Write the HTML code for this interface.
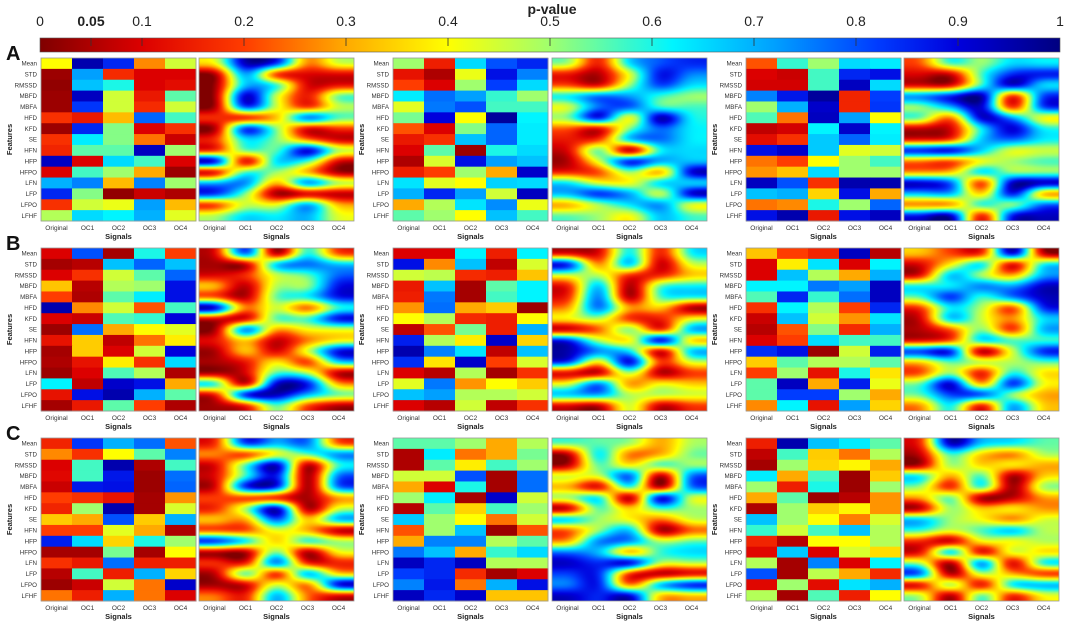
<!DOCTYPE html>
<html><head><meta charset="utf-8"><style>
html,body{margin:0;padding:0;background:#fff;}
#wrap{position:relative;width:1065px;height:621px;overflow:hidden;font-family:"Liberation Sans",Arial,sans-serif;}
svg{position:absolute;left:0;top:0;}
canvas{position:absolute;}
</style></head><body>
<div id="wrap">
<svg id="svg" width="1065" height="621"></svg>
</div>
<script>
const features=["Mean","STD","RMSSD","MBFD","MBFA","HFD","KFD","SE","HFN","HFP","HFPO","LFN","LFP","LFPO","LFHF"];
const signals=["Original","OC1","OC2","OC3","OC4"];
const cbTicks=[0,0.05,0.1,0.2,0.3,0.4,0.5,0.6,0.7,0.8,0.9,1];
const cbTickLabels=["0","0.05","0.1","0.2","0.3","0.4","0.5","0.6","0.7","0.8","0.9","1"];
const rowLetters=["A","B","C"];
const A1=[[0.4,0.95,0.85,0.27,0.45],[0.03,0.72,0.17,0.1,0.1],[0.02,0.68,0.6,0.1,0.12],[0.03,0.93,0.45,0.14,0.55],[0.03,0.83,0.45,0.17,0.45],[0.18,0.14,0.32,0.78,0.57],[0.03,0.85,0.52,0.1,0.18],[0.18,0.63,0.52,0.25,0.08],[0.16,0.55,0.55,0.93,0.5],[0.93,0.1,0.65,0.57,0.1],[0.1,0.57,0.5,0.3,0.03],[0.7,0.75,0.32,0.75,0.5],[0.85,0.52,0.02,0.08,0.05],[0.18,0.45,0.42,0.72,0.32],[0.48,0.65,0.62,0.7,0.43]];
const A2=[[0.5,0.15,0.65,0.8,0.85],[0.13,0.05,0.42,0.88,0.75],[0.2,0.1,0.5,0.82,0.65],[0.63,0.77,0.72,0.58,0.5],[0.43,0.76,0.8,0.57,0.57],[0.53,0.9,0.4,0.97,0.62],[0.22,0.1,0.52,0.78,0.63],[0.14,0.18,0.68,0.78,0.63],[0.1,0.55,0.03,0.6,0.65],[0.05,0.44,0.88,0.72,0.68],[0.15,0.2,0.5,0.3,0.92],[0.64,0.43,0.4,0.66,0.65],[0.7,0.85,0.72,0.45,0.93],[0.3,0.48,0.64,0.74,0.42],[0.55,0.5,0.4,0.68,0.57]];
const A3=[[0.22,0.58,0.5,0.65,0.63],[0.1,0.08,0.57,0.85,0.88],[0.09,0.09,0.57,0.93,0.65],[0.75,0.87,0.97,0.16,0.82],[0.5,0.7,0.92,0.16,0.83],[0.56,0.25,0.93,0.72,0.4],[0.07,0.09,0.62,0.92,0.62],[0.12,0.18,0.67,0.78,0.63],[0.88,0.92,0.67,0.43,0.45],[0.25,0.2,0.4,0.5,0.57],[0.28,0.33,0.65,0.5,0.5],[0.93,0.8,0.18,0.95,0.95],[0.68,0.7,0.35,0.88,0.3],[0.25,0.27,0.6,0.5,0.78],[0.88,0.95,0.14,0.88,0.93]];
const B1=[[0.1,0.8,0.04,0.6,0.2],[0.04,0.06,0.68,0.78,0.68],[0.1,0.18,0.45,0.55,0.78],[0.33,0.06,0.48,0.5,0.88],[0.2,0.05,0.55,0.63,0.88],[0.95,0.27,0.45,0.22,0.57],[0.1,0.08,0.56,0.58,0.9],[0.03,0.77,0.3,0.4,0.43],[0.13,0.34,0.07,0.25,0.38],[0.04,0.34,0.1,0.45,0.9],[0.05,0.13,0.38,0.18,0.65],[0.03,0.1,0.56,0.48,0.05],[0.62,0.07,0.92,0.88,0.3],[0.13,0.88,0.95,0.7,0.55],[0.04,0.14,0.55,0.2,0.05]];
const B2=[[0.1,0.1,0.62,0.15,0.62],[0.88,0.27,0.68,0.07,0.44],[0.45,0.47,0.17,0.15,0.33],[0.14,0.68,0.04,0.55,0.62],[0.15,0.76,0.04,0.57,0.62],[0.28,0.77,0.3,0.34,0.03],[0.4,0.48,0.17,0.15,0.4],[0.07,0.22,0.53,0.15,0.7],[0.86,0.48,0.38,0.92,0.35],[0.95,0.75,0.64,0.07,0.68],[0.84,0.37,0.92,0.2,0.44],[0.1,0.06,0.48,0.04,0.18],[0.43,0.76,0.28,0.4,0.34],[0.68,0.72,0.48,0.48,0.45],[0.1,0.06,0.45,0.07,0.18]];
const B3=[[0.33,0.2,0.16,0.93,0.06],[0.1,0.38,0.64,0.1,0.62],[0.1,0.68,0.48,0.3,0.7],[0.62,0.62,0.76,0.72,0.93],[0.56,0.85,0.58,0.77,0.93],[0.18,0.62,0.48,0.2,0.85],[0.08,0.68,0.45,0.28,0.64],[0.06,0.22,0.52,0.17,0.7],[0.1,0.2,0.65,0.57,0.57],[0.84,0.88,0.03,0.45,0.86],[0.34,0.55,0.48,0.48,0.55],[0.2,0.5,0.13,0.6,0.37],[0.55,0.93,0.3,0.86,0.42],[0.55,0.82,0.82,0.5,0.3],[0.27,0.62,0.13,0.72,0.35]];
const C1=[[0.16,0.83,0.7,0.77,0.22],[0.27,0.18,0.4,0.55,0.75],[0.1,0.57,0.95,0.05,0.57],[0.11,0.57,0.87,0.03,0.77],[0.08,0.87,0.88,0.03,0.78],[0.2,0.18,0.13,0.04,0.28],[0.16,0.5,0.95,0.04,0.44],[0.34,0.3,0.8,0.34,0.7],[0.2,0.2,0.43,0.3,0.05],[0.86,0.65,0.35,0.6,0.5],[0.04,0.04,0.53,0.04,0.4],[0.18,0.14,0.77,0.15,0.15],[0.06,0.57,0.15,0.7,0.35],[0.03,0.08,0.45,0.25,0.92],[0.25,0.15,0.7,0.25,0.1]];
const C2=[[0.55,0.55,0.5,0.3,0.48],[0.05,0.63,0.25,0.3,0.53],[0.05,0.55,0.38,0.57,0.5],[0.45,0.45,0.8,0.04,0.77],[0.3,0.1,0.6,0.04,0.77],[0.5,0.63,0.04,0.92,0.45],[0.06,0.55,0.35,0.57,0.5],[0.67,0.5,0.4,0.25,0.45],[0.22,0.5,0.68,0.03,0.22],[0.3,0.75,0.75,0.48,0.55],[0.76,0.68,0.3,0.58,0.65],[0.93,0.85,0.93,0.48,0.48],[0.82,0.85,0.17,0.04,0.1],[0.75,0.87,0.25,0.7,0.88],[0.93,0.85,0.92,0.33,0.33]];
const C3=[[0.15,0.95,0.68,0.63,0.55],[0.07,0.57,0.34,0.25,0.48],[0.04,0.5,0.35,0.39,0.3],[0.63,0.3,0.57,0.03,0.34],[0.5,0.15,0.6,0.03,0.5],[0.3,0.55,0.03,0.06,0.28],[0.05,0.5,0.34,0.39,0.28],[0.68,0.5,0.4,0.26,0.44],[0.58,0.45,0.57,0.68,0.48],[0.16,0.06,0.4,0.4,0.48],[0.11,0.67,0.1,0.44,0.36],[0.48,0.04,0.75,0.1,0.62],[0.8,0.04,0.47,0.3,0.17],[0.11,0.5,0.12,0.64,0.7],[0.48,0.04,0.56,0.15,0.4]];
const panelData=[[A1,A2,A3],[B1,B2,B3],[C1,C2,C3]];

const stops=[[0,[128,0,0]],[0.1,[220,0,0]],[0.2,[255,60,0]],[0.3,[255,170,0]],[0.4,[255,255,0]],[0.5,[160,255,110]],[0.62,[0,245,255]],[0.72,[0,160,255]],[0.82,[0,60,255]],[0.9,[0,0,220]],[1,[0,0,128]]];
function cmap(v){v=Math.max(0,Math.min(1,v));for(let i=1;i<stops.length;i++){if(v<=stops[i][0]){const a=stops[i-1],b=stops[i];const t=(v-a[0])/(b[0]-a[0]);return a[1].map((c,k)=>Math.round(c+(b[1][k]-c)*t));}}return stops[stops.length-1][1];}
function rgb(v){const c=cmap(v);return `rgb(${c[0]},${c[1]},${c[2]})`;}

const NS="http://www.w3.org/2000/svg";
const svg=document.getElementById('svg');
const wrap=document.getElementById('wrap');
function el(tag,attrs,parent){const e=document.createElementNS(NS,tag);for(const k in attrs)e.setAttribute(k,attrs[k]);(parent||svg).appendChild(e);return e;}
function txt(x,y,s,attrs,parent){const t=el('text',Object.assign({x:x,y:y},attrs),parent);t.textContent=s;return t;}

const cbL=40,cbR=1060,cbT=38,cbB=52;
const cbX=v=>cbL+(cbR-cbL)*v;
const defs=el('defs',{});
const grad=el('linearGradient',{id:'cbg',x1:'0',x2:'1',y1:'0',y2:'0'},defs);
for(let i=0;i<=50;i++){el('stop',{offset:(i/50),'stop-color':rgb(i/50)},grad);}
const cb=el('rect',{x:cbL,y:cbT,width:cbR-cbL,height:cbB-cbT,fill:'url(#cbg)',stroke:'#555','stroke-width':0.6});


const cbTitle=txt(552,14,'p-value',{'font-size':14,'font-weight':'bold','text-anchor':'middle',fill:'#222'});


cbTicks.forEach((v,i)=>{
  if(v>0&&v<1){el('line',{x1:cbX(v),x2:cbX(v),y1:cbT,y2:cbT+8,stroke:'#333','stroke-width':0.8});}
  const t=txt(cbX(v),26,cbTickLabels[i],{'font-size':14,'text-anchor':'middle',fill:'#222','font-weight':v===0.05?'bold':'normal'});
  
  
});

const groupX=[[41,199],[393,552],[746,904]];
const rowY=[58,248,438];
const PW=155,PH=163;

function bicubic(data,fx,fy){
  const nr=data.length,nc=data[0].length;
  const g=(r,c)=>data[Math.max(0,Math.min(nr-1,r))][Math.max(0,Math.min(nc-1,c))];
  const cr=(p0,p1,p2,p3,t)=>p1+0.5*t*(p2-p0+t*(2*p0-5*p1+4*p2-p3+t*(3*(p1-p2)+p3-p0)));
  const x0=Math.floor(fx),y0=Math.floor(fy),tx=fx-x0,ty=fy-y0;
  const rows=[];
  for(let j=-1;j<=2;j++){rows.push(cr(g(y0+j,x0-1),g(y0+j,x0),g(y0+j,x0+1),g(y0+j,x0+2),tx));}
  return cr(rows[0],rows[1],rows[2],rows[3],ty);
}

for(let r=0;r<3;r++){
  const y0=rowY[r];
  const L=txt(6,y0+2,rowLetters[r],{'font-size':20,'font-weight':'bold',fill:'#111'});
  
  
  for(let g=0;g<3;g++){
    const data=panelData[r][g];
    const hx=groupX[g][0],sx=groupX[g][1];
    const grp=el('g',{});
    
    
    const cw=PW/signals.length,ch=PH/features.length;
    data.forEach((row,i)=>row.forEach((v,j)=>{
      const c=el('rect',{x:hx+j*cw,y:y0+i*ch,width:cw+0.5,height:ch+0.5,fill:rgb(v)},grp);
      
      
    }));
    el('rect',{x:hx,y:y0,width:PW,height:PH,fill:'none',stroke:'#999','stroke-width':0.8},grp);
    features.forEach((f,i)=>{
      const t=txt(hx-4,y0+i*ch+ch/2+2.2,f,{'font-size':6.2,'text-anchor':'end',fill:'#333'});
      
      
    });
    const fy=y0+PH/2;
    const ft=txt(hx-29,fy,'Features',{'font-size':7.5,'font-weight':'bold','text-anchor':'middle',fill:'#222',transform:`rotate(-90 ${hx-29} ${fy})`});
    
    
    [hx,sx].forEach(px=>{
      signals.forEach((s,j)=>{
        const t=txt(px+j*cw+cw/2,y0+PH+9,s,{'font-size':6.5,'text-anchor':'middle',fill:'#333'});
        
        
      });
      const st=txt(px+PW/2,y0+PH+18,'Signals',{'font-size':7.5,'font-weight':'bold','text-anchor':'middle',fill:'#222'});
      
      
    });
    const cv=document.createElement('canvas');
    cv.width=PW;cv.height=PH;
    cv.style.left=sx+'px';cv.style.top=y0+'px';
    
    
    const ctx=cv.getContext('2d');
    const img=ctx.createImageData(PW,PH);
    // value field then slight blur
    const field=new Float32Array(PW*PH);
    for(let py=0;py<PH;py++){for(let px=0;px<PW;px++){
      field[py*PW+px]=bicubic(data,(px+0.5)/cw-0.5,(py+0.5)/ch-0.5);
    }}
    const rad=3,tmp=new Float32Array(PW*PH),out=new Float32Array(PW*PH);
    for(let py=0;py<PH;py++)for(let px=0;px<PW;px++){let s=0,n=0;for(let d=-rad*2;d<=rad*2;d++){const q=px+d;if(q>=0&&q<PW){s+=field[py*PW+q];n++;}}tmp[py*PW+px]=s/n;}
    for(let py=0;py<PH;py++)for(let px=0;px<PW;px++){let s=0,n=0;for(let d=-rad;d<=rad;d++){const q=py+d;if(q>=0&&q<PH){s+=tmp[q*PW+px];n++;}}out[py*PW+px]=s/n;}
    for(let k=0;k<PW*PH;k++){
      const c=cmap(out[k]);
      img.data[k*4]=c[0];img.data[k*4+1]=c[1];img.data[k*4+2]=c[2];img.data[k*4+3]=255;
    }
    ctx.putImageData(img,0,0);
    wrap.appendChild(cv);
    const bd=el('rect',{x:sx,y:y0,width:PW,height:PH,fill:'none',stroke:'#999','stroke-width':0.8});
    
    
  }
}
svg.style.zIndex=2;svg.style.pointerEvents='none';
</script>
</body></html>
